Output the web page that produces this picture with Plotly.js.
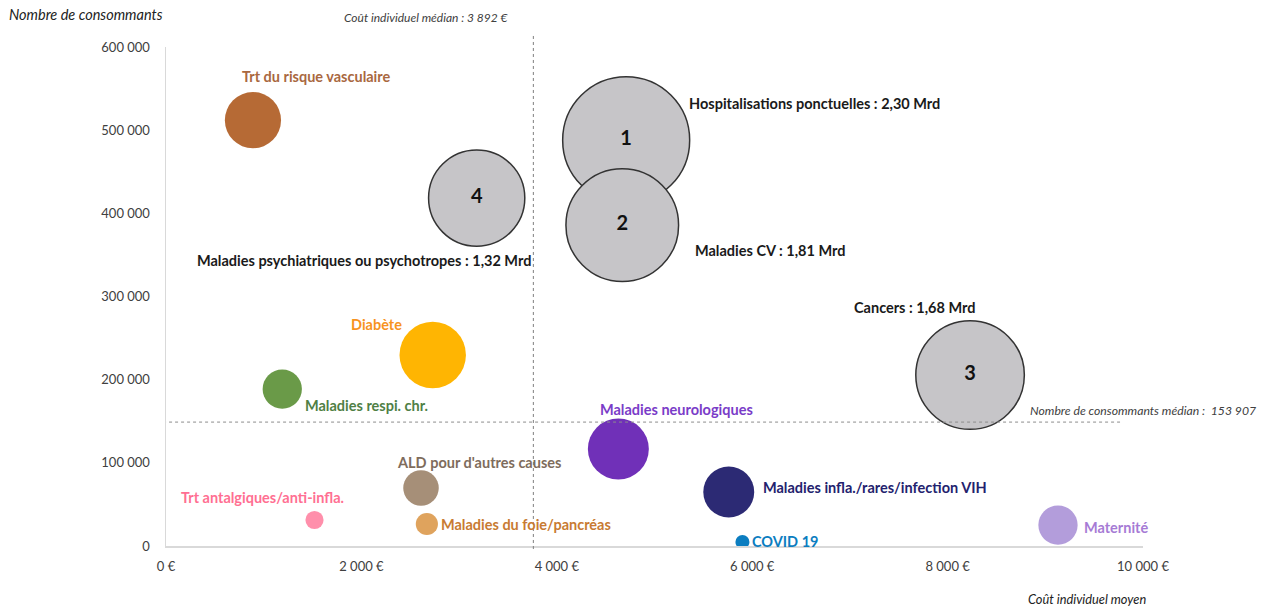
<!DOCTYPE html>
<html>
<head>
<meta charset="utf-8">
<script src="https://cdn.plot.ly/plotly-3.0.1.min.js"></script>
<style>html,body{margin:0;padding:0;background:#fff;}#chart{width:1269px;height:610px;}</style>
</head>
<body>
<div id="chart"></div>
<script>
// ---- Data ----
const categories = [
  "Hospitalisations ponctuelles",
  "Maladies CV",
  "Cancers",
  "Maladies psychiatriques ou psychotropes",
  "Trt du risque vasculaire",
  "Diabète",
  "Maladies respi. chr.",
  "Maladies neurologiques",
  "Maladies infla./rares/infection VIH",
  "ALD pour d'autres causes",
  "Trt antalgiques/anti-infla.",
  "Maladies du foie/pancréas",
  "COVID 19",
  "Maternité"
];
const labelTexts = [
  "Hospitalisations ponctuelles : 2,30 Mrd",
  "Maladies CV : 1,81 Mrd",
  "Cancers : 1,68 Mrd",
  "Maladies psychiatriques ou psychotropes : 1,32 Mrd",
  "Trt du risque vasculaire",
  "Diabète",
  "Maladies respi. chr.",
  "Maladies neurologiques",
  "Maladies infla./rares/infection VIH",
  "ALD pour d'autres causes",
  "Trt antalgiques/anti-infla.",
  "Maladies du foie/pancréas",
  "COVID 19",
  "Maternité"
];
const rankLabels = ["1", "2", "3", "4", "", "", "", "", "", "", "", "", "", ""];
const coutMoyen = [4710, 4670, 8230, 3180, 890, 2730, 1190, 4630, 5760, 2610, 1520, 2670, 5900, 9130];
const nbConsommants = [488000, 385800, 205500, 418300, 512000, 229600, 188700, 116600, 64900, 69700, 31300, 26400, 4800, 25200];
const depenseMrd = [2.30, 1.81, 1.68, 1.32, 0.45, 0.63, 0.22, 0.53, 0.37, 0.18, 0.047, 0.07, 0.028, 0.22];
const medianCout = 3760;          // position of the dotted vertical line as drawn
const medianCoutLabel = "Coût individuel médian : 3 892 €";
const medianNb = 149000;          // position of the dotted horizontal line as drawn
const medianNbLabel = "Nombre de consommants médian :  153 907";
const xTickVals = [0, 2000, 4000, 6000, 8000, 10000];
const xTickText = ["0 €", "2 000 €", "4 000 €", "6 000 €", "8 000 €", "10 000 €"];
const yTickVals = [0, 100000, 200000, 300000, 400000, 500000, 600000];
const yTickText = ["0", "100 000", "200 000", "300 000", "400 000", "500 000", "600 000"];

// ---- Styles ----
const fillColors = ["#C6C5C8","#C6C5C8","#C6C5C8","#C6C5C8","#B66A35","#FFB502","#6A9A48","#7030B8","#2C2A74","#A68F78","#FF8FAB","#DFA35D","#0B7DC0","#B39DDB"];
const lineColors = ["#333","#333","#333","#333","rgba(0,0,0,0)","rgba(0,0,0,0)","rgba(0,0,0,0)","rgba(0,0,0,0)","rgba(0,0,0,0)","rgba(0,0,0,0)","rgba(0,0,0,0)","rgba(0,0,0,0)","rgba(0,0,0,0)","rgba(0,0,0,0)"];
const lineWidths = [1.5,1.5,1.5,1.5,0,0,0,0,0,0,0,0,0,0];
const labelColors = ["#1a1a1a","#1a1a1a","#1a1a1a","#1a1a1a","#A9683F","#F7931E","#4F7F45","#7A3CC8","#23226E","#7E6C5C","#FF6F92","#C87B32","#0B7DC0","#A67BD5"];
// label placement relative to bubble centre (pixels)
const labelPlace = [
  {xa:"left",  dx:61,  dy:37},
  {xa:"left",  dx:71,  dy:-25},
  {xa:"center",dx:-56, dy:68},
  {xa:"right", dx:56,  dy:-62},
  {xa:"center",dx:63,  dy:44},
  {xa:"center",dx:-56, dy:31},
  {xa:"left",  dx:21,  dy:-16},
  {xa:"center",dx:58,  dy:40},
  {xa:"left",  dx:32,  dy:5},
  {xa:"center",dx:58,  dy:26},
  {xa:"center",dx:-52, dy:22},
  {xa:"left",  dx:12,  dy:0},
  {xa:"left",  dx:8,   dy:1},
  {xa:"left",  dx:24,  dy:-2}
];

const FONT = "Lato, 'Open Sans', sans-serif";
const maxDiam = 127;
const sizeRef = 2 * Math.max(...depenseMrd) / (maxDiam * maxDiam);

const trace = {
  type: "scatter",
  mode: "markers+text",
  x: coutMoyen,
  y: nbConsommants,
  text: rankLabels,
  textposition: "middle center",
  textfont: {family: FONT, size: 20, color: "#111", weight: 700},
  marker: {
    size: depenseMrd,
    sizemode: "area",
    sizeref: sizeRef,
    color: fillColors,
    opacity: 1,
    line: {color: lineColors, width: lineWidths}
  },
  cliponaxis: true,
  hoverinfo: "skip",
  showlegend: false
};

const annotations = labelTexts.map((t, i) => ({
  x: coutMoyen[i], y: nbConsommants[i], xref: "x", yref: "y",
  text: "<b>" + t + "</b>", showarrow: false,
  xanchor: labelPlace[i].xa, yanchor: "middle",
  xshift: labelPlace[i].dx, yshift: labelPlace[i].dy,
  font: {family: FONT, size: 14.5, color: labelColors[i]}
}));
annotations.push(
  {x: medianCout, y: 1.06, xref: "x", yref: "paper", text: "<i>" + medianCoutLabel + "</i>", showarrow: false,
   xanchor: "center", yanchor: "middle", xshift: -107, font: {family: FONT, size: 12, color: "#404040"}},
  {x: 10000, y: medianNb, xref: "x", yref: "y", text: "<i>" + medianNbLabel + "</i>", showarrow: false,
   xanchor: "left", yanchor: "middle", xshift: -115, yshift: 12, font: {family: FONT, size: 12.2, color: "#404040"}},
  {x: 0, y: 1, xref: "paper", yref: "paper", text: "<i>Nombre de consommants</i>", showarrow: false,
   xanchor: "left", yanchor: "middle", xshift: -159, yshift: 33, font: {family: FONT, size: 14.5, color: "#222"}},
  {x: 10000, y: 0, xref: "x", yref: "paper", text: "<i>Coût individuel moyen</i>", showarrow: false,
   xanchor: "right", yanchor: "middle", xshift: 5, yshift: -53, font: {family: FONT, size: 12.8, color: "#222"}}
);

const layout = {
  width: 1269, height: 610,
  margin: {l: 166, r: 126, t: 47, b: 64},
  paper_bgcolor: "#fff", plot_bgcolor: "#fff",
  font: {family: FONT, color: "#404040", size: 13},
  showlegend: false,
  hovermode: false,
  xaxis: {
    range: [0, 10000], tickmode: "array", tickvals: xTickVals, ticktext: xTickText,
    showgrid: false, zeroline: false, showline: true, linecolor: "#D9D9D9", linewidth: 1.5,
    ticks: "", ticklen: 0, ticklabelstandoff: 8, tickfont: {family: FONT, size: 13, color: "#404040"}, fixedrange: true
  },
  yaxis: {
    range: [0, 600000], tickmode: "array", tickvals: yTickVals, ticktext: yTickText,
    showgrid: false, zeroline: false, showline: true, linecolor: "#D9D9D9", linewidth: 1.5,
    ticks: "", ticklen: 0, ticklabelstandoff: 12, tickfont: {family: FONT, size: 13, color: "#404040"}, fixedrange: true
  },
  shapes: [
    {type: "line", xref: "x", yref: "paper", x0: medianCout, x1: medianCout, y0: -0.006, y1: 1.028,
     line: {color: "#7F7F7F", width: 1, dash: "dot"}, layer: "above"},
    {type: "line", xref: "x", yref: "y", x0: -30, x1: 9765, y0: medianNb, y1: medianNb,
     line: {color: "#8C8C8C", width: 1, dash: "dot"}, layer: "above"}
  ],
  annotations: annotations
};

Plotly.newPlot("chart", [trace], layout, {displayModeBar: false, staticPlot: true});
</script>
</body>
</html>
